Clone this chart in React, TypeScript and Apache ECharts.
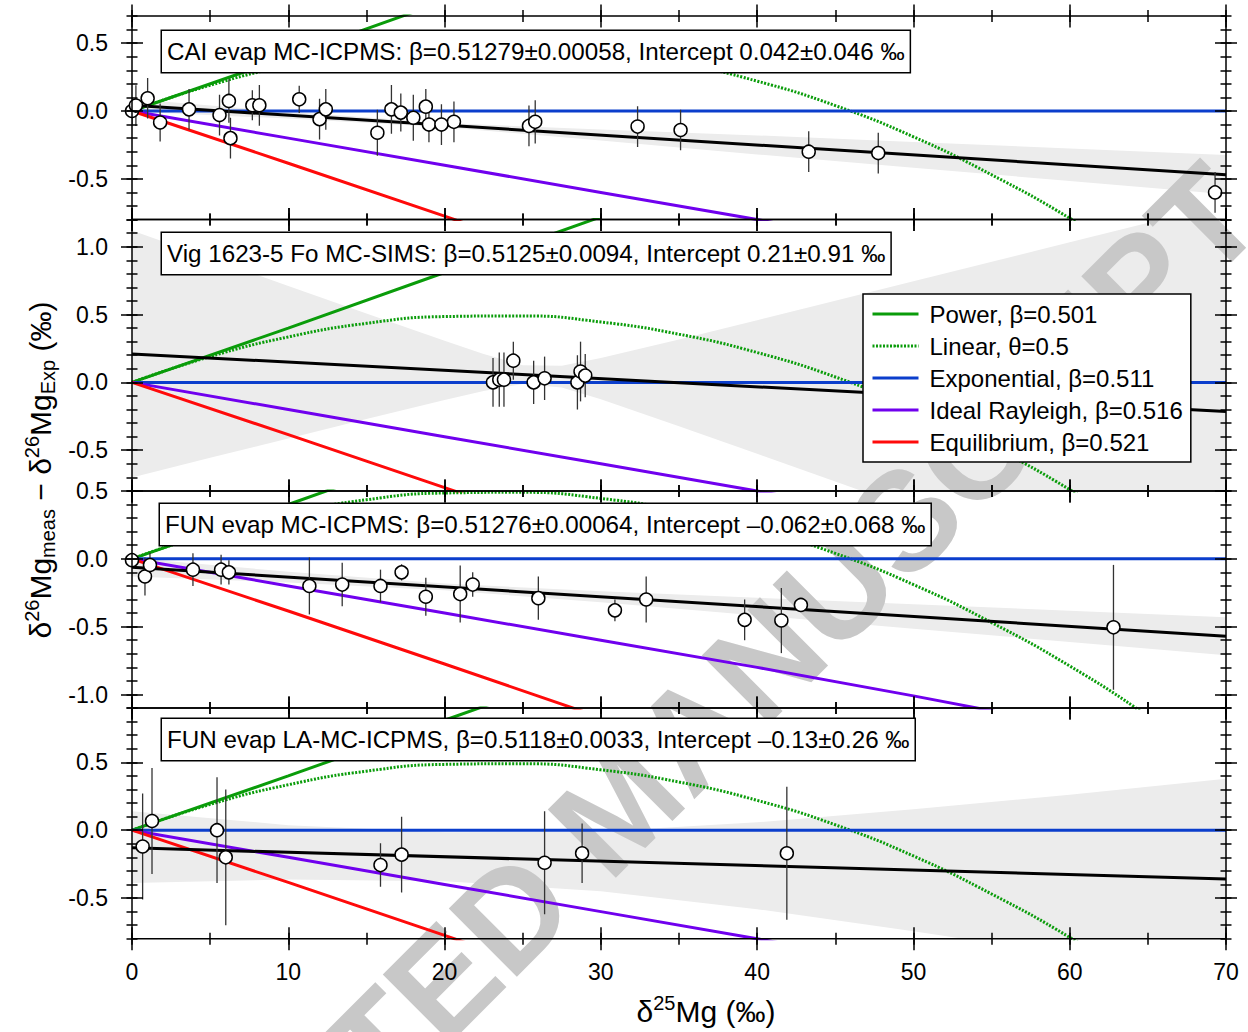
import React, { useEffect, useRef } from "react";
import * as echarts from "echarts";

const FONT = '"Liberation Sans", Arial, Helvetica, sans-serif';

// ---------- axes ----------
const X_MIN = 0;
const X_MAX = 70;
const X_MAJOR = 10;
const X_MINOR = 5;
const Y_MINOR = 0.1;

const Y_RANGES: number[][] = [
  [-0.8, 0.7],
  [-0.8, 1.2],
  [-1.1, 0.5],
  [-0.8, 0.9],
];
const Y_LABELS: number[][] = [
  [-0.5, 0, 0.5],
  [-0.5, 0, 0.5, 1.0],
  [-1.0, -0.5, 0, 0.5],
  [-0.5, 0, 0.5],
];

// ---------- panel titles ----------
const TITLES = [
  "CAI evap MC-ICPMS: β=0.51279±0.00058, Intercept 0.042±0.046 ‰",
  "Vig 1623-5 Fo MC-SIMS: β=0.5125±0.0094, Intercept 0.21±0.91 ‰",
  "FUN evap MC-ICPMS: β=0.51276±0.00064, Intercept –0.062±0.068 ‰",
  "FUN evap LA-MC-ICPMS, β=0.5118±0.0033, Intercept –0.13±0.26 ‰",
];
const WATERMARK = "ACCEPTED MANUSCRIPT";

// ---------- model curves (deviation from exponential law) ----------
const POWER = [[0, 0], [10, 0.4], [20, 0.81], [30, 1.22], [40, 1.65]];
const LINEAR = [
  [0, 0], [5, 0.19], [10, 0.335], [15, 0.435], [20, 0.485], [25, 0.49], [30, 0.445],
  [35, 0.355], [40, 0.22], [45, 0.04], [50, -0.19], [55, -0.47], [60, -0.79], [65, -1.16], [70, -1.58],
];
const EXPONENTIAL = [[0, 0], [70, 0]];
const RAYLEIGH = [[0, 0], [10, -0.2], [20, -0.4], [30, -0.6], [40, -0.8], [50, -1.01], [60, -1.23]];
const EQUILIBRIUM = [[0, 0], [10, -0.385], [20, -0.775], [30, -1.17]];

const MODEL_NAMES = [
  "Power, β=0.501",
  "Linear, θ=0.5",
  "Exponential, β=0.511",
  "Ideal Rayleigh, β=0.516",
  "Equilibrium, β=0.521",
];

// ---------- measured data [δ25Mg, Δ26Mg, error] ----------
const P1_DATA = [
  [0.0, 0.0, 0.1], [0.25, 0.04, 0.15], [1.0, 0.094, 0.15], [1.8, -0.085, 0.14], [3.65, 0.012, 0.15],
  [5.6, -0.03, 0.15], [6.2, 0.074, 0.16], [6.3, -0.2, 0.15], [7.7, 0.042, 0.11], [8.15, 0.042, 0.15],
  [10.7, 0.086, 0.1], [12.0, -0.06, 0.15], [12.4, 0.012, 0.15], [15.7, -0.16, 0.17], [16.6, 0.012, 0.18],
  [17.2, -0.012, 0.14], [18.0, -0.05, 0.17], [18.8, 0.032, 0.13], [19.0, -0.1, 0.13], [19.8, -0.1, 0.15],
  [20.6, -0.08, 0.15], [25.4, -0.11, 0.15], [25.8, -0.08, 0.16], [32.35, -0.115, 0.15], [35.1, -0.14, 0.15],
  [43.3, -0.3, 0.15], [47.75, -0.31, 0.15], [69.3, -0.6, 0.15],
];
const P2_DATA = [
  [23.1, 0.0, 0.18], [23.5, 0.02, 0.2], [23.8, 0.02, 0.2], [24.4, 0.16, 0.14], [25.7, 0.0, 0.16],
  [26.4, 0.03, 0.16], [28.5, 0.0, 0.2], [28.7, 0.08, 0.22], [29.0, 0.05, 0.16],
];
const P3_DATA = [
  [0.0, -0.01, 0.02], [0.83, -0.13, 0.14], [1.15, -0.046, 0.09], [3.9, -0.08, 0.12], [5.7, -0.08, 0.11],
  [6.2, -0.1, 0.09], [11.35, -0.2, 0.21], [13.45, -0.19, 0.16], [15.9, -0.2, 0.12], [17.25, -0.1, 0.06],
  [18.8, -0.28, 0.14], [21.0, -0.26, 0.21], [21.8, -0.19, 0.09], [26.0, -0.29, 0.16], [30.9, -0.38, 0.08],
  [32.9, -0.3, 0.17], [39.2, -0.45, 0.15], [41.55, -0.455, 0.24], [42.8, -0.34, 0.04], [62.8, -0.505, 0.46],
];
const P4_DATA = [
  [0.68, -0.12, 0.39], [1.28, 0.068, 0.39], [5.44, 0.0, 0.39], [6.0, -0.2, 0.5], [15.9, -0.257, 0.16],
  [17.25, -0.18, 0.28], [26.4, -0.24, 0.38], [28.8, -0.17, 0.22], [41.9, -0.17, 0.49],
];

// ---------- regression lines ----------
const P1_FIT = [[0, 0.042], [70, -0.47]];
const P2_FIT = [[0, 0.21], [70, -0.215]];
const P3_FIT = [[0, -0.062], [70, -0.57]];
const P4_FIT = [[0, -0.13], [70, -0.36]];

// ---------- confidence bands ----------
const BAND_X = [0, 10, 20, 30, 40, 50, 60, 70];
const P1_UP = [0.088, -0.006, -0.089, -0.137, -0.18, -0.228, -0.276, -0.324];
const P1_LO = [-0.004, -0.056, -0.119, -0.217, -0.32, -0.418, -0.516, -0.614];
const P2_BAND_X = [0, 5, 10, 15, 20, 22.5, 25, 27.5, 30, 35, 40, 50, 60, 70];
const P2_UP = [1.12, 0.915, 0.711, 0.507, 0.306, 0.209, 0.127, 0.122, 0.179, 0.316, 0.458, 0.745, 1.032, 1.319];
const P2_LO = [-0.7, -0.556, -0.413, -0.27, -0.13, -0.063, -0.012, -0.037, -0.125, -0.323, -0.526, -0.935, -1.344, -1.753];
const P3_UP = [0.006, -0.095, -0.182, -0.24, -0.287, -0.335, -0.383, -0.43];
const P3_LO = [-0.13, -0.175, -0.232, -0.32, -0.417, -0.515, -0.613, -0.71];
const P4_UP = [0.14, 0.037, -0.016, -0.009, 0.058, 0.155, 0.262, 0.379];
const P4_LO = [-0.39, -0.363, -0.376, -0.449, -0.582, -0.745, -0.918, -1.101];

const PANELS = [
  { data: P1_DATA, fit: P1_FIT, bx: BAND_X, up: P1_UP, lo: P1_LO },
  { data: P2_DATA, fit: P2_FIT, bx: P2_BAND_X, up: P2_UP, lo: P2_LO },
  { data: P3_DATA, fit: P3_FIT, bx: BAND_X, up: P3_UP, lo: P3_LO },
  { data: P4_DATA, fit: P4_FIT, bx: BAND_X, up: P4_UP, lo: P4_LO },
];

// ---------- layout (pixels) ----------
const GRID_LEFT = 132;
const GRID_WIDTH = 1094;
const GRID_TOP0 = 16;
const PX_PER_UNIT = 135.7;
const TITLE_POS = [[162, 31], [162, 233], [160, 504], [162, 719]];

const GREEN = "#0a9c0a";
const BLUE = "#0b3ecc";
const PURPLE = "#7000ee";
const RED = "#ff0a0a";
const BAND = "#ececec";

function buildOption() {
  const grids: any[] = [];
  const xAxes: any[] = [];
  const yAxes: any[] = [];
  const series: any[] = [];
  let top = GRID_TOP0;

  const tick = (len: number) => ({ show: true, inside: false, length: len, lineStyle: { color: "#000", width: 1.5 } });
  const noLine = { show: false, onZero: false };

  PANELS.forEach((p, i) => {
    const [ymin, ymax] = Y_RANGES[i];
    const h = (ymax - ymin) * PX_PER_UNIT;
    grids.push({
      left: GRID_LEFT, width: GRID_WIDTH, top, height: h, show: true, z: 10,
      borderColor: "#000", borderWidth: 1.5, backgroundColor: "transparent",
      containLabel: false, outerBoundsMode: "none",
    });
    top += h;

    const xb = { type: "value", gridIndex: i, z: 10, min: X_MIN, max: X_MAX, axisLine: noLine, splitLine: { show: false }, axisLabel: { show: false } };
    xAxes.push({
      ...xb, position: "bottom", offset: -11.5, interval: X_MAJOR, axisTick: tick(23),
      axisLabel: i === 3 ? { show: true, margin: 33, fontSize: 23, color: "#000", fontFamily: FONT } : { show: false },
    });
    xAxes.push({ ...xb, position: "bottom", offset: -6, interval: X_MINOR, axisTick: tick(12) });
    xAxes.push({ ...xb, position: "top", offset: -11.5, interval: X_MAJOR, axisTick: tick(23) });
    xAxes.push({ ...xb, position: "top", offset: -6, interval: X_MINOR, axisTick: tick(12) });

    const yb = { type: "value", gridIndex: i, z: 10, min: ymin, max: ymax, axisLine: noLine, splitLine: { show: false }, axisLabel: { show: false } };
    yAxes.push({
      ...yb, position: "left", offset: -11, axisTick: { ...tick(22), customValues: Y_LABELS[i] },
      axisLabel: {
        show: true, customValues: Y_LABELS[i], margin: 35, fontSize: 23, color: "#000", fontFamily: FONT,
        formatter: (v: number) => v.toFixed(1),
      },
    });
    yAxes.push({ ...yb, position: "left", offset: -5.5, interval: Y_MINOR, axisTick: tick(11) });
    yAxes.push({ ...yb, position: "right", offset: -11, axisTick: { ...tick(22), customValues: Y_LABELS[i] } });
    yAxes.push({ ...yb, position: "right", offset: -5.5, interval: Y_MINOR, axisTick: tick(11) });

    const ax = { xAxisIndex: i * 4, yAxisIndex: i * 4, silent: true };

    // confidence band
    series.push({
      ...ax, type: "custom", clip: true, z: 1,
      data: p.bx.map((x, k) => [x, p.up[k], p.lo[k]]),
      encode: { x: 0, y: [1, 2] },
      renderItem: (params: any, api: any) => {
        if (params.dataIndex !== 0) return null;
        const up = p.bx.map((x, k) => api.coord([x, p.up[k]]));
        const lo = p.bx.map((x, k) => api.coord([x, p.lo[k]])).reverse();
        return { type: "polygon", shape: { points: up.concat(lo) }, style: { fill: BAND } };
      },
    });

    const models = [
      { data: POWER, color: GREEN, type: "solid", smooth: false },
      { data: LINEAR, color: GREEN, type: [2, 1.5], smooth: true },
      { data: EXPONENTIAL, color: BLUE, type: "solid", smooth: false },
      { data: RAYLEIGH, color: PURPLE, type: "solid", smooth: false },
      { data: EQUILIBRIUM, color: RED, type: "solid", smooth: false },
    ];
    models.forEach((m, k) => {
      series.push({
        ...ax, type: "line", name: MODEL_NAMES[k], data: m.data, symbol: "none", showSymbol: false,
        smooth: m.smooth, z: 3, itemStyle: { color: m.color },
        lineStyle: { color: m.color, width: 3, type: m.type, cap: "butt" },
      });
    });

    // fit
    series.push({
      ...ax, type: "line", data: p.fit, symbol: "none", showSymbol: false, z: 4,
      lineStyle: { color: "#000", width: 3 }, itemStyle: { color: "#000" },
    });

    // error bars
    series.push({
      ...ax, type: "custom", clip: true, z: 5, data: p.data, encode: { x: 0, y: 1 },
      renderItem: (params: any, api: any) => {
        const x = api.value(0), y = api.value(1), e = api.value(2);
        const a = api.coord([x, y + e]);
        const b = api.coord([x, y - e]);
        return { type: "line", shape: { x1: a[0], y1: a[1], x2: b[0], y2: b[1] }, style: { stroke: "#333", lineWidth: 1.3 } };
      },
    });

    // points
    series.push({
      ...ax, type: "scatter", z: 6, symbol: "circle", symbolSize: 13,
      data: p.data.map((d) => [d[0], d[1]]),
      itemStyle: { color: "#fff", borderColor: "#000", borderWidth: 1.5, opacity: 1 },
    });
  });

  const graphic: any[] = [];
  graphic.push({
    type: "text", x: 619, y: 806, rotation: Math.PI / 4, z: 2, silent: true,
    style: {
      text: WATERMARK, fontSize: 140, fontWeight: "bold", fontFamily: FONT, fill: "#c8c8c8",
      align: "center", verticalAlign: "middle",
    },
  });
  TITLES.forEach((t, i) => graphic.push({
    type: "text", x: TITLE_POS[i][0], y: TITLE_POS[i][1], z: 100, silent: true,
    style: {
      text: t, fontSize: 24.2, fontFamily: FONT, fill: "#000", lineHeight: 29,
      backgroundColor: "#fff", borderColor: "#000", borderWidth: 1.5, padding: [6, 5, 6, 5],
      align: "left", verticalAlign: "top",
    },
  }));

  const rich = {
    n: { fontSize: 30, fontFamily: FONT, fill: "#000", lineHeight: 36 },
    sup: { fontSize: 20, fontFamily: FONT, fill: "#000", lineHeight: 20, verticalAlign: "top" },
    sub: { fontSize: 20, fontFamily: FONT, fill: "#000", lineHeight: 20, verticalAlign: "bottom" },
  };
  graphic.push({
    type: "text", x: 40, y: 470, rotation: Math.PI / 2, z: 100, silent: true,
    style: {
      text: "{n|δ}{sup|26}{n|Mg}{sub|meas}{n| − δ}{sup|26}{n|Mg}{sub|Exp}{n| (‰)}",
      rich, align: "center", verticalAlign: "middle", fontSize: 30, fontFamily: FONT,
    },
  });
  graphic.push({
    type: "text", x: 706, y: 1011, z: 100, silent: true,
    style: {
      text: "{n|δ}{sup|25}{n|Mg (‰)}",
      rich, align: "center", verticalAlign: "middle", fontSize: 30, fontFamily: FONT,
    },
  });

  return {
    animation: false,
    backgroundColor: "#fff",
    grid: grids,
    xAxis: xAxes,
    yAxis: yAxes,
    series,
    graphic,
    legend: {
      data: MODEL_NAMES, orient: "vertical", left: 863, top: 294, padding: [4, 8, 4, 8],
      itemWidth: 46, itemHeight: 2, itemGap: 0, backgroundColor: "#fff", borderColor: "#000",
      borderWidth: 1.5, borderRadius: 0, selectedMode: false, z: 50,
      lineStyle: { width: 3 },
      textStyle: { fontSize: 24, fontFamily: FONT, color: "#000", lineHeight: 32, padding: [0, 0, 0, 6] },
    },
  };
}

export default function App() {
  const ref = useRef<HTMLDivElement>(null);
  useEffect(() => {
    document.body.style.margin = "0";
    const chart = echarts.init(ref.current as HTMLDivElement, null, { renderer: "svg", width: 1248, height: 1032 });
    chart.setOption(buildOption() as any);
    return () => chart.dispose();
  }, []);
  return <div ref={ref} style={{ width: 1248, height: 1032 }} />;
}
